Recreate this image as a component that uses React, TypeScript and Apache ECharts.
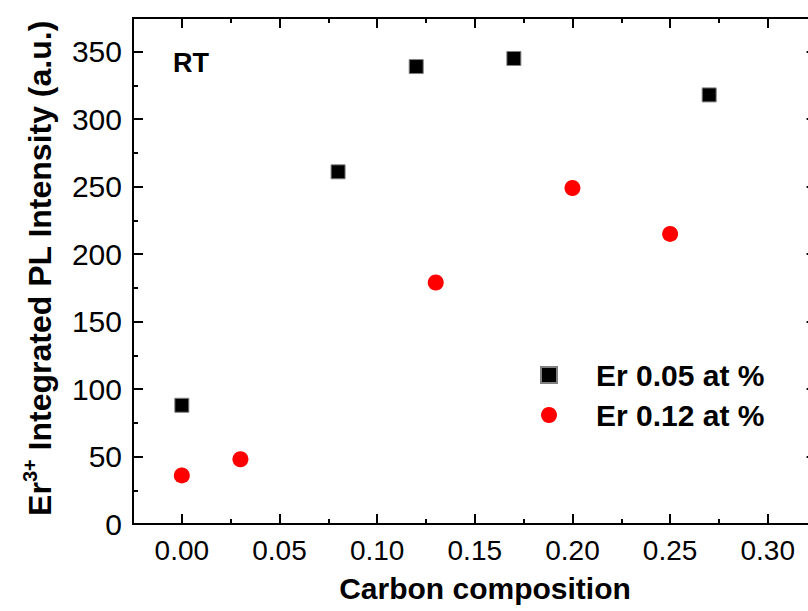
import React, { useEffect, useRef } from "react";
import * as echarts from "echarts";

const FONT = 'Arial, "Liberation Sans", Helvetica, sans-serif';

// Data
const er005X = [0, 0.08, 0.12, 0.17, 0.27];
const er005Y = [88, 261, 339, 345, 318];
const er012X = [0, 0.03, 0.13, 0.2, 0.25];
const er012Y = [36, 48, 179, 249, 215];

const seriesNames = ["Er 0.05 at %", "Er 0.12 at %"];

// Axis ticks
const xMajorTicks = [0, 0.05, 0.1, 0.15, 0.2, 0.25, 0.3];
const xMinorTicks = [0.025, 0.075, 0.125, 0.175, 0.225, 0.275];
const yMajorTicks = [0, 50, 100, 150, 200, 250, 300, 350];
const yMinorTicks = [25, 75, 125, 175, 225, 275, 325];

const X_MIN = -0.025;
const X_MAX = 0.325;
const Y_MIN = 0;
const Y_MAX = 375;

const yTitleParts = ["Er", "3+", " Integrated PL Intensity (a.u.)"];
const xTitle = "Carbon composition";
const noteText = "RT";

function measure(text: string, font: string): number {
  const c = document.createElement("canvas");
  const ctx = c.getContext("2d");
  if (!ctx) return text.length * 15;
  ctx.font = font;
  return ctx.measureText(text).width;
}

export default function App() {
  const ref = useRef<HTMLDivElement>(null);

  useEffect(() => {
    if (!ref.current) return;
    const chart = echarts.init(ref.current, undefined, { renderer: "svg" });

    const axisLine = { show: true, onZero: false, lineStyle: { color: "#000", width: 2 } };
    const makeX = (pos: string, ticks: number[], len: number, labels: boolean) => ({
      type: "value",
      position: pos,
      min: X_MIN,
      max: X_MAX,
      axisLine,
      splitLine: { show: false },
      axisTick: {
        show: true,
        inside: true,
        length: len,
        customValues: ticks,
        lineStyle: { color: "#000", width: 2 },
      },
      axisLabel: labels
        ? {
            show: true,
            customValues: xMajorTicks,
            formatter: (v: number) => v.toFixed(2),
            fontSize: 28,
            fontFamily: FONT,
            color: "#000",
            margin: 12,
          }
        : { show: false },
    });
    const makeY = (pos: string, ticks: number[], len: number, labels: boolean) => ({
      type: "value",
      position: pos,
      min: Y_MIN,
      max: Y_MAX,
      axisLine,
      splitLine: { show: false },
      axisTick: {
        show: true,
        inside: true,
        length: len,
        customValues: ticks,
        lineStyle: { color: "#000", width: 2 },
      },
      axisLabel: labels
        ? {
            show: true,
            customValues: yMajorTicks,
            formatter: (v: number) => String(v),
            fontSize: 30,
            fontFamily: FONT,
            color: "#000",
            margin: 11,
          }
        : { show: false },
    });

    // y-axis title made of three parts (superscript in the middle)
    const mainSize = 32;
    const supSize = 20;
    const mainFont = `bold ${mainSize}px Arial, "Liberation Sans", sans-serif`;
    const supFont = `bold ${supSize}px Arial, "Liberation Sans", sans-serif`;
    const w0 = measure(yTitleParts[0], mainFont);
    const w1 = measure(yTitleParts[1], supFont);
    const w2 = measure(yTitleParts[2], mainFont);
    const total = w0 + w1 + w2;
    const start = -total / 2;
    const tStyle = (text: string, size: number) => ({
      text,
      fontSize: size,
      fontWeight: "bold",
      fontFamily: FONT,
      fill: "#000",
      align: "left",
      verticalAlign: "middle",
    });

    chart.setOption({
      animation: false,
      backgroundColor: "#fff",
      grid: { left: 133, top: 18, width: 683.6, height: 506, show: false },
      xAxis: [
        makeX("bottom", xMajorTicks, 10, true),
        makeX("bottom", xMinorTicks, 5, false),
        makeX("top", xMajorTicks, 10, false),
        makeX("top", xMinorTicks, 5, false),
      ],
      yAxis: [
        makeY("left", yMajorTicks, 10, true),
        makeY("left", yMinorTicks, 5, false),
        makeY("right", yMajorTicks, 10, false),
        makeY("right", yMinorTicks, 5, false),
      ],
      legend: {
        show: true,
        orient: "vertical",
        left: 540,
        top: 360,
        padding: 0,
        itemWidth: 16,
        itemHeight: 16,
        itemGap: 10,
        textStyle: {
          fontSize: 30,
          fontWeight: "bold",
          fontFamily: FONT,
          color: "#000",
          padding: [0, 0, 0, 34],
        },
        data: seriesNames,
      },
      series: [
        {
          name: seriesNames[0],
          type: "scatter",
          xAxisIndex: 0,
          yAxisIndex: 0,
          symbol: "rect",
          symbolSize: 14,
          itemStyle: { color: "#000", borderColor: "#808080", borderWidth: 1, opacity: 1 },
          data: er005X.map((x, i) => [x, er005Y[i]]),
        },
        {
          name: seriesNames[1],
          type: "scatter",
          xAxisIndex: 0,
          yAxisIndex: 0,
          symbol: "circle",
          symbolSize: 16,
          itemStyle: { color: "#ff0000", opacity: 1 },
          data: er012X.map((x, i) => [x, er012Y[i]]),
        },
      ],
      graphic: [
        {
          type: "text",
          left: 173,
          top: 49,
          style: {
            text: noteText,
            fontSize: 27,
            fontWeight: "bold",
            fontFamily: FONT,
            fill: "#000",
          },
        },
        {
          type: "text",
          x: 485,
          y: 588,
          style: {
            text: xTitle,
            fontSize: 30,
            fontWeight: "bold",
            fontFamily: FONT,
            fill: "#000",
            align: "center",
            verticalAlign: "middle",
          },
        },
        {
          type: "group",
          x: 40,
          y: 268,
          rotation: Math.PI / 2,
          children: [
            { type: "text", x: start, y: 0, style: tStyle(yTitleParts[0], mainSize) },
            { type: "text", x: start + w0, y: -10, style: tStyle(yTitleParts[1], supSize) },
            { type: "text", x: start + w0 + w1, y: 0, style: tStyle(yTitleParts[2], mainSize) },
          ],
        },
      ],
    });

    return () => chart.dispose();
  }, []);

  return (
    <div style={{ position: "fixed", left: 0, top: 0, width: 808, height: 611, overflow: "hidden", background: "#fff" }}>
      <div ref={ref} style={{ width: 840, height: 611 }} />
    </div>
  );
}
